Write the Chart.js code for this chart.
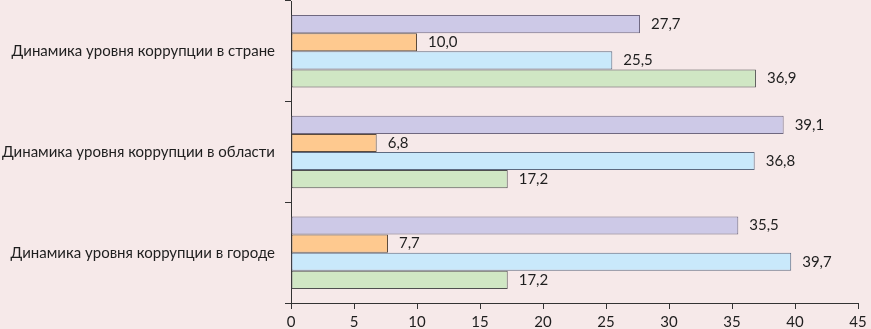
<!DOCTYPE html>
<html>
<head>
<meta charset="utf-8">
<script src="https://cdn.jsdelivr.net/npm/chart.js@4/dist/chart.umd.min.js"></script>
<style>
  html, body { margin: 0; padding: 0; background: #f6e9e9; }
  #wrap { width: 871px; height: 329px; }
</style>
</head>
<body>
<div id="wrap"><canvas id="corruptionChart"></canvas></div>
<script>
//-----------------------------------------------------------------------------
// Chart values.
//-----------------------------------------------------------------------------

const categories = [
  "Динамика уровня коррупции в стране",
  "Динамика уровня коррупции в области",
  "Динамика уровня коррупции в городе",
];
const seriesPurple = [27.7, 39.1, 35.5];
const seriesOrange = [10.0, 6.8, 7.7];
const seriesBlue = [25.5, 36.8, 39.7];
const seriesGreen = [36.9, 17.2, 17.2];
const xTicks = [0, 5, 10, 15, 20, 25, 30, 35, 40, 45];

const fontFamily = "Lato, 'Open Sans', sans-serif";
const textColor = "#1e1e1e";

//-----------------------------------------------------------------------------
// Small plugin that writes each value to the right of its bar, with a
// decimal comma.
//-----------------------------------------------------------------------------

const valueLabels = {
  id: "valueLabels",
  afterDatasetsDraw(chart) {
    const ctx = chart.ctx;
    ctx.save();
    ctx.font = "15px " + fontFamily;
    ctx.fillStyle = textColor;
    ctx.textAlign = "left";
    ctx.textBaseline = "middle";
    chart.data.datasets.forEach((ds, i) => {
      chart.getDatasetMeta(i).data.forEach((bar, j) => {
        const text = ds.data[j].toFixed(1).replace(".", ",");
        ctx.fillText(text, bar.x + 11, bar.y);
      });
    });
    ctx.restore();
  },
};

function makeSet(values, fill, border) {
  return {
    data: values,
    backgroundColor: fill,
    borderColor: border,
    borderWidth: 1,
    borderSkipped: false,
    categoryPercentage: 0.72,
    barPercentage: 1.0,
  };
}

const ctx = document.getElementById("corruptionChart").getContext("2d");

new Chart(ctx, {
  type: "bar",
  data: {
    labels: categories,
    datasets: [
      makeSet(seriesPurple, "#cdc9e7", "#6f6880"),
      makeSet(seriesOrange, "#fec98f", "#5a4a3c"),
      makeSet(seriesBlue, "#c9e9fb", "#5d6a80"),
      makeSet(seriesGreen, "#d0e7c4", "#4f4f4f"),
    ],
  },
  options: {
    indexAxis: "y",
    responsive: true,
    maintainAspectRatio: false,
    animation: false,
    layout: { padding: { top: 1, right: 13, left: 0, bottom: 0 } },
    plugins: {
      legend: { display: false },
      tooltip: { enabled: false },
    },
    scales: {
      x: {
        min: 0,
        max: 45,
        afterBuildTicks(scale) {
          scale.ticks = xTicks.map((v) => ({ value: v }));
        },
        afterFit(scale) {
          scale.height = 26;
        },
        grid: {
          drawOnChartArea: false,
          drawTicks: true,
          tickLength: 6,
          color: "#333",
        },
        border: { display: true, color: "#333", width: 1 },
        ticks: {
          color: textColor,
          font: { family: fontFamily, size: 15 },
          padding: 4,
          maxRotation: 0,
        },
      },
      y: {
        afterFit(scale) {
          scale.width = 291;
          scale.paddingTop = 0;
          scale.paddingBottom = 0;
        },
        grid: {
          offset: true,
          drawOnChartArea: false,
          drawTicks: true,
          tickLength: 6,
          color: "#333",
        },
        border: { display: true, color: "#333", width: 1 },
        ticks: {
          color: textColor,
          font: { family: fontFamily, size: 15 },
          padding: 10,
        },
      },
    },
  },
  plugins: [valueLabels],
});
</script>
</body>
</html>
